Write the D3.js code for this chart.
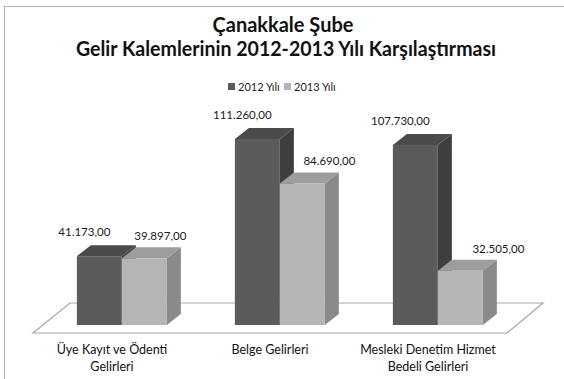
<!DOCTYPE html>
<html>
<head>
<meta charset="utf-8">
<script src="https://cdn.jsdelivr.net/npm/d3@7"></script>
<style>
  html, body { margin: 0; padding: 0; background: #fff; }
  svg { display: block; font-family: Lato, "Open Sans", sans-serif; }
</style>
</head>
<body>
<svg id="chart" width="564" height="379"></svg>
<script>
// Gelir kalemleri ve yıllara göre tutarlar (TL)
const categories = [
  ["Üye Kayıt ve Ödenti", "Gelirleri"],
  ["Belge Gelirleri"],
  ["Mesleki Denetim Hizmet", "Bedeli Gelirleri"]
];
const seriesNames = ["2012 Yılı", "2013 Yılı"];
const values2012 = [41173, 111260, 107730];
const values2013 = [39897, 84690, 32505];
const titleLines = ["Çanakkale Şube", "Gelir Kalemlerinin 2012-2013 Yılı Karşılaştırması"];

const series = [values2012, values2013];
const faceColors = [
  { front: "#5b5b5b", top: "#4b4b4b", side: "#3e3e3e" },
  { front: "#b5b5b5", top: "#9d9d9d", side: "#8a8a8a" }
];

const svg = d3.select("#chart");
const trFormat = d3.formatLocale({ decimal: ",", thousands: ".", grouping: [3], currency: ["", " TL"] }).format(",.2f");

// Chart area frame
svg.append("path")
  .attr("d", "M4.5,379 L4.5,6.5 L564,6.5")
  .attr("fill", "none")
  .attr("stroke", "#b3b3b3")
  .attr("stroke-width", 1.2);

// Title
const title = svg.append("text")
  .attr("text-anchor", "middle")
  .attr("font-weight", "bold")
  .attr("fill", "#111");
title.append("tspan").attr("x", 283).attr("y", 32).attr("font-size", 20).text(titleLines[0]);
title.append("tspan").attr("x", 286).attr("y", 56).attr("font-size", 20)
  .attr("textLength", 420).attr("lengthAdjust", "spacingAndGlyphs").text(titleLines[1]);

// Legend
const legend = svg.append("g").attr("font-size", 11).attr("fill", "#222");
const legendX = [228, 284];
seriesNames.forEach((name, i) => {
  const g = legend.append("g").attr("transform", `translate(${legendX[i]},83)`);
  g.append("rect").attr("width", 7).attr("height", 7).attr("fill", faceColors[i].front);
  g.append("text").attr("x", 10).attr("y", 7.5).text(name);
});

// Floor (3D base plane) and oblique projection parameters
const floor = { front: 333, back: 303, left: 33, right: 507, depthX: 37 };
const barDepth = { dx: 14, dy: 11 };
const barInset = 8;                        // distance of bar front from floor front edge
const barShift = barInset * floor.depthX / (floor.front - floor.back);

const x = d3.scaleBand()
  .domain(d3.range(categories.length))
  .range([floor.left, floor.right]);
const y = d3.scaleLinear()
  .domain([0, 120000])
  .range([floor.front - barInset, floor.front - barInset - 200.6]);

const barW = 45;

svg.append("path")
  .attr("d", `M${floor.left},${floor.front} L${floor.left + floor.depthX},${floor.back} ` +
             `L${floor.right + floor.depthX - 1},${floor.back} L${floor.right},${floor.front} Z`)
  .attr("fill", "none")
  .attr("stroke", "#a6a6a6")
  .attr("stroke-width", 1.2);

// Bars, drawn left to right so each right neighbour covers the side of the previous one
const bars = svg.append("g");
categories.forEach((c, ci) => {
  const groupLeft = x(ci) + x.bandwidth() / 2 + barShift - barW;
  series.forEach((vals, si) => {
    const v = vals[ci];
    const x0 = groupLeft + si * barW, x1 = x0 + barW;
    const yb = y(0), yt = y(v);
    const { dx, dy } = barDepth;
    const col = faceColors[si];
    const g = bars.append("g");
    g.append("path")
      .attr("d", `M${x1},${yt} L${x1 + dx},${yt - dy} L${x1 + dx},${yb - dy} L${x1},${yb} Z`)
      .attr("fill", col.side);
    g.append("path")
      .attr("d", `M${x0},${yt} L${x0 + dx},${yt - dy} L${x1 + dx},${yt - dy} L${x1},${yt} Z`)
      .attr("fill", col.top);
    g.append("rect")
      .attr("x", x0).attr("y", yt)
      .attr("width", barW).attr("height", yb - yt)
      .attr("fill", col.front);
  });
});

// Value labels
const labels = svg.append("g").attr("font-size", 11.5).attr("fill", "#1a1a1a").attr("text-anchor", "middle");
categories.forEach((c, ci) => {
  const groupLeft = x(ci) + x.bandwidth() / 2 + barShift - barW;
  series.forEach((vals, si) => {
    const v = vals[ci];
    const cx = groupLeft + si * barW + barW / 2;
    const lx = si === 0 ? cx - 15 : cx + 27 + (cx - 302) * 0.07;
    const ly = y(v) - (si === 0 ? 20 : 18);
    labels.append("text").attr("x", lx).attr("y", ly).text(trFormat(v));
  });
});

// Category labels
const catLabels = svg.append("g").attr("font-size", 12.5).attr("fill", "#111").attr("text-anchor", "middle");
categories.forEach((lines, ci) => {
  const t = catLabels.append("text");
  lines.forEach((line, li) => {
    t.append("tspan").attr("x", x(ci) + x.bandwidth() / 2).attr("y", 354 + li * 17).text(line);
  });
});
</script>
</body>
</html>
